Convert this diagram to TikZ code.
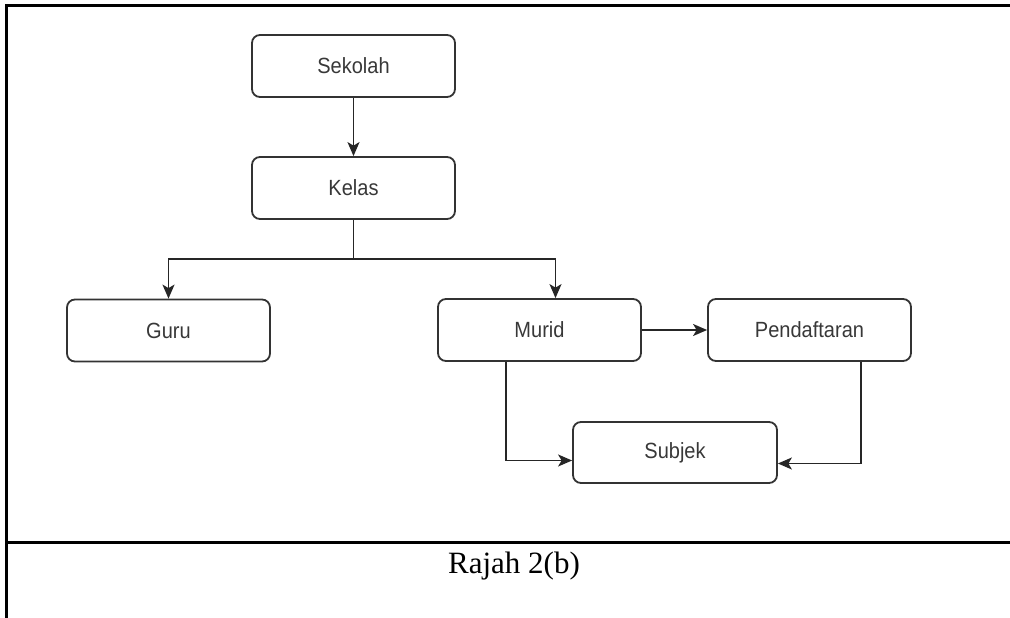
\documentclass[tikz,border=0pt]{standalone}
\usepackage{fontspec}
\setmainfont{Liberation Sans}[FakeStretch=0.91]
\newfontfamily\rajahfont{Liberation Serif}
\usetikzlibrary{arrows.meta}

\begin{document}
\begin{tikzpicture}[x=1pt,y=-1pt,
    entity/.style={draw=black!80,line width=1.8pt,rounded corners=8pt,minimum width=203pt,minimum height=62pt,inner sep=0pt,text=black!78,font=\fontsize{22}{26}\selectfont},
    link/.style={draw,black!85,line width=1.7pt,-{Stealth[length=14pt,width=12pt,inset=3.5pt]}},
    tableline/.style={draw,line width=3pt}]

    \useasboundingbox (0,0) rectangle (1010,618);
    \draw[tableline] (1010,6) -- (6,6) -- (6,618);
    \draw[tableline] (6,542) -- (1010,542);

    \node[entity] (sekolah) at (353.5,66) {Sekolah};
    \node[entity] (kelas) at (353.5,188) {Kelas};
    \node[entity] (guru) at (168.5,330.5) {Guru};
    \node[entity] (murid) at (539.5,330) {Murid};
    \node[entity] (pendaftaran) at (809.5,330) {Pendaftaran};
    \node[entity,minimum width=204pt,minimum height=61pt] (subjek) at (675,452.5) {Subjek};
    \node[anchor=base,font=\rajahfont\fontsize{31}{36}\selectfont] (rajah) at (514,573) {Rajah 2(b)};
    \coordinate (split) at (353.5,259);

    \path[link] (sekolah) -- (kelas);
    \path[link,-] (kelas) -- (split);
    \path[link] (split) -| (guru);
    \path[link] (split) -| ([xshift=16pt]murid.north);
    \path[link] (murid) -- (pendaftaran);
    \path[link] ([xshift=-33.5pt]murid.south) |- ([yshift=-8pt]subjek.west);
    \path[link] ([xshift=51.5pt]pendaftaran.south) |- ([yshift=-11pt]subjek.east);

\end{tikzpicture}
\end{document}
